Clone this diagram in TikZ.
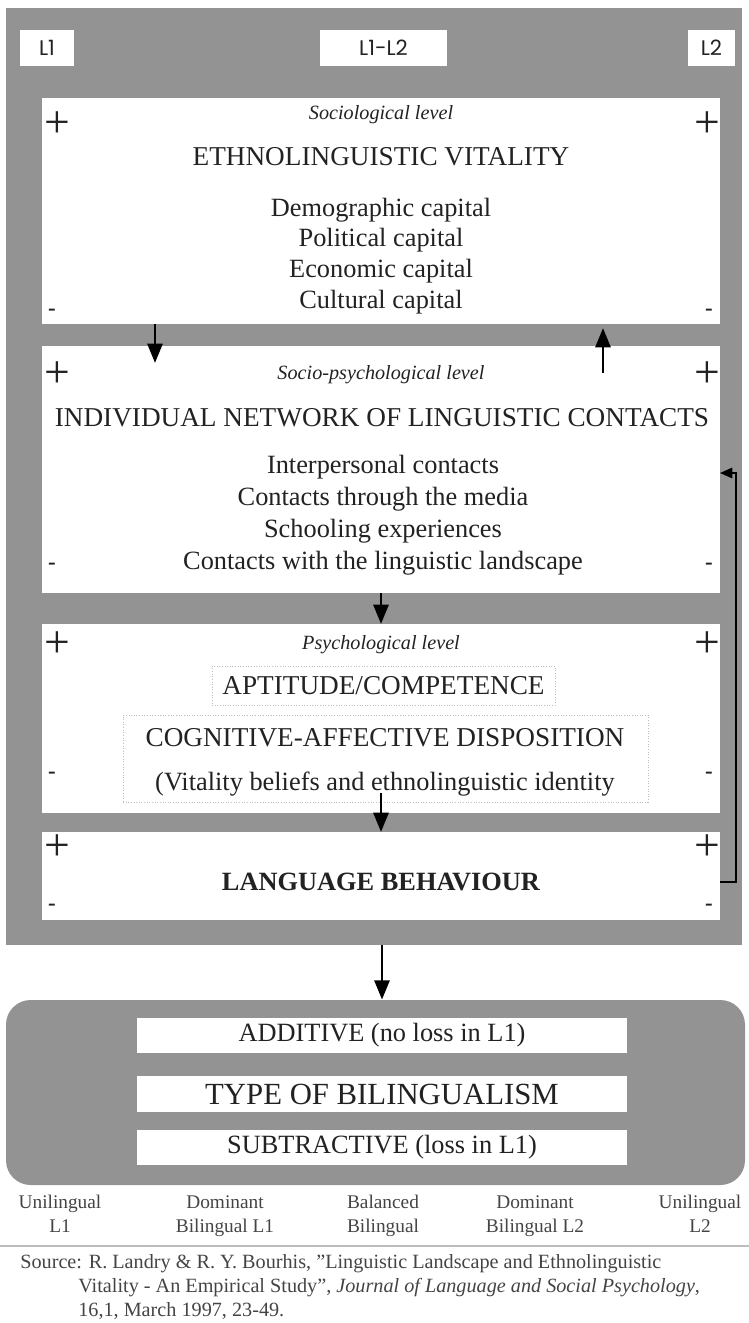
\documentclass[tikz,border=0pt]{standalone}
\usepackage{fontspec}
\setmainfont{Liberation Serif}
\newfontfamily\tagfont{Poppins}
\usetikzlibrary{calc,fit,arrows.meta}
\definecolor{panel}{HTML}{939393}
\definecolor{ink}{HTML}{222222}
\definecolor{soft}{HTML}{444444}
\definecolor{rule}{HTML}{BDBDBD}
\tikzset{
  sheet/.style={fill=white, inner sep=0pt, outer sep=0pt},
  tag/.style={text=ink, inner sep=0pt, font=\tagfont\fontsize{12}{14}\selectfont},
  dotbox/.style={draw=rule, densely dotted, line width=0.5pt, inner sep=0pt},
  lvl/.style={text=ink, font=\fontsize{11.5}{13}\selectfont\itshape},
  head/.style={text=ink, font=\fontsize{15.5}{18}\selectfont},
  body/.style={text=ink, align=center, font=\fontsize{15}{17.5}\selectfont},
  plusmark/.style={text=ink, inner sep=0pt, font=\fontsize{26}{26}\selectfont},
  minusmark/.style={text=ink, inner sep=0pt, font=\fontsize{13}{13}\selectfont\bfseries},
  arr/.style={draw=black, line width=1.7pt, -{Triangle[length=11pt,width=8.5pt]}},
  fb/.style={draw=black, line width=0.8pt, -{Triangle[length=7pt,width=6pt]}},
  scalelab/.style={text=soft, align=center, anchor=north, inner sep=0pt, font=\fontsize{11}{13.7}\selectfont},
  src/.style={text=soft, align=left, inner sep=0pt, font=\fontsize{11.5}{13.7}\selectfont}
}

\begin{document}
\begin{tikzpicture}[x=0.02cm,y=-0.02cm]
  \useasboundingbox (0,0) rectangle (749,1323);

  % upper panel with the four levels
  \node[fit={(6,8) (742,945)}, fill=panel, inner sep=0pt] (panel) {};
  \node[sheet, fit={(20,30) (74,66)}] (l1) {};
  \node[sheet, fit={(320,30) (447,66)}] (l12) {};
  \node[sheet, fit={(688,30) (735,66)}] (l2) {};
  \node[tag] (l1-t) at (l1) {L1};
  \node[tag] (l12-t) at (l12) {L1-L2};
  \node[tag] (l2-t) at (l2) {L2};

  \node[sheet, fit={(42,98) (720,324)}] (soc) {};
  \node[lvl] (soc-t) at (381,115) {Sociological level};
  \node[head] (soc-h) at (381,157) {ETHNOLINGUISTIC VITALITY};
  \node[body] (soc-l) at (381,256) {Demographic capital\\Political capital\\Economic capital\\Cultural capital};

  \node[sheet, fit={(42,346) (720,593)}] (spsy) {};
  \node[lvl] (spsy-t) at (381,375) {Socio-psychological level};
  \node[head] (spsy-h) at (382,418) {INDIVIDUAL NETWORK OF LINGUISTIC CONTACTS};
  \node[body, font=\fontsize{15}{18.2}\selectfont] (spsy-l) at (383,515) {Interpersonal contacts\\Contacts through the media\\Schooling experiences\\Contacts with the linguistic landscape};

  \node[sheet, fit={(42,624) (720,813)}] (psy) {};
  \node[lvl] (psy-t) at (381,645) {Psychological level};
  \node[dotbox, fit={(212,666) (555,705)}] (apt) {};
  \node[head] (apt-h) at (apt) {APTITUDE/COMPETENCE};
  \node[dotbox, fit={(123,715) (648,802)}] (cog) {};
  \node[head] (cog-h) at (385,738) {COGNITIVE-AFFECTIVE DISPOSITION};
  \node[body] (cog-l) at (385,784) {(Vitality beliefs and ethnolinguistic identity};

  \node[sheet, fit={(42,832) (720,920)}] (beh) {};
  \node[head, font=\fontsize{15}{18}\selectfont\bfseries] (beh-h) at (381,882) {LANGUAGE BEHAVIOUR};

  % + and - at the corners
  \foreach \b/\py/\my in {soc/125/312, spsy/375/566, psy/645/775, beh/848/907} {
    \node[plusmark] (\b-pl) at (57,\py) {+};
    \node[plusmark] (\b-pr) at (707,\py) {+};
    \node[minusmark] (\b-ml) at (52,\my) {-};
    \node[minusmark] (\b-mr) at (709,\my) {-};
  }

  % arrows between the levels
  \coordinate (d1) at (155,363);
  \coordinate (u1a) at (603,373);
  \coordinate (u1b) at (603,328);
  \draw[arr] (soc.south -| d1) -- (d1);
  \draw[arr] (u1a) -- (u1b);
  \draw[arr] (spsy.south) -- (psy.north);
  \draw[arr] (psy.south) ++(0,-20) -- (beh.north);

  % feedback from behaviour to contacts
  \coordinate (fbout) at (720,882);
  \coordinate (fbin) at (720,473);
  \draw[fb] (beh.east |- fbout) -- ++(16,0) |- (spsy.east |- fbin);

  % type of bilingualism
  \node[fit={(6,1000) (745,1185)}, fill=panel, rounded corners=14pt, inner sep=0pt] (bil) {};
  \node[sheet, fit={(137,1018) (627,1053)}] (add) {};
  \node[sheet, fit={(137,1076) (627,1112)}] (type) {};
  \node[sheet, fit={(137,1130) (627,1165)}] (sub) {};
  \node[text=ink, font=\fontsize{15}{18}\selectfont] (add-t) at (add) {ADDITIVE (no loss in L1)};
  \node[text=ink, font=\fontsize{17.5}{20}\selectfont] (type-t) at (type) {TYPE OF BILINGUALISM};
  \node[text=ink, font=\fontsize{15}{18}\selectfont] (sub-t) at (sub) {SUBTRACTIVE (loss in L1)};
  \draw[arr] (panel.south -| add.north) -- (add.north |- bil.north);

  % scale below
  \node[scalelab] (uni1) at (60,1195) {Unilingual\\L1};
  \node[scalelab] (dom1) at (225,1195) {Dominant\\Bilingual L1};
  \node[scalelab] (bal) at (383,1195) {Balanced\\Bilingual};
  \node[scalelab] (dom2) at (535,1195) {Dominant\\Bilingual L2};
  \node[scalelab] (uni2) at (700,1195) {Unilingual\\L2};

  \draw[rule, line width=0.6pt] (0,1246) -- (749,1246);
  \node[src, anchor=north west] (src) at (20,1254) {Source: R. Landry \& R. Y. Bourhis, "Linguistic Landscape and Ethnolinguistic\\
    \hspace*{33pt}Vitality - An Empirical Study", \textit{Journal of Language and Social Psychology},\\
    \hspace*{33pt}16,1, March 1997, 23-49.};
\end{tikzpicture}
\end{document}
